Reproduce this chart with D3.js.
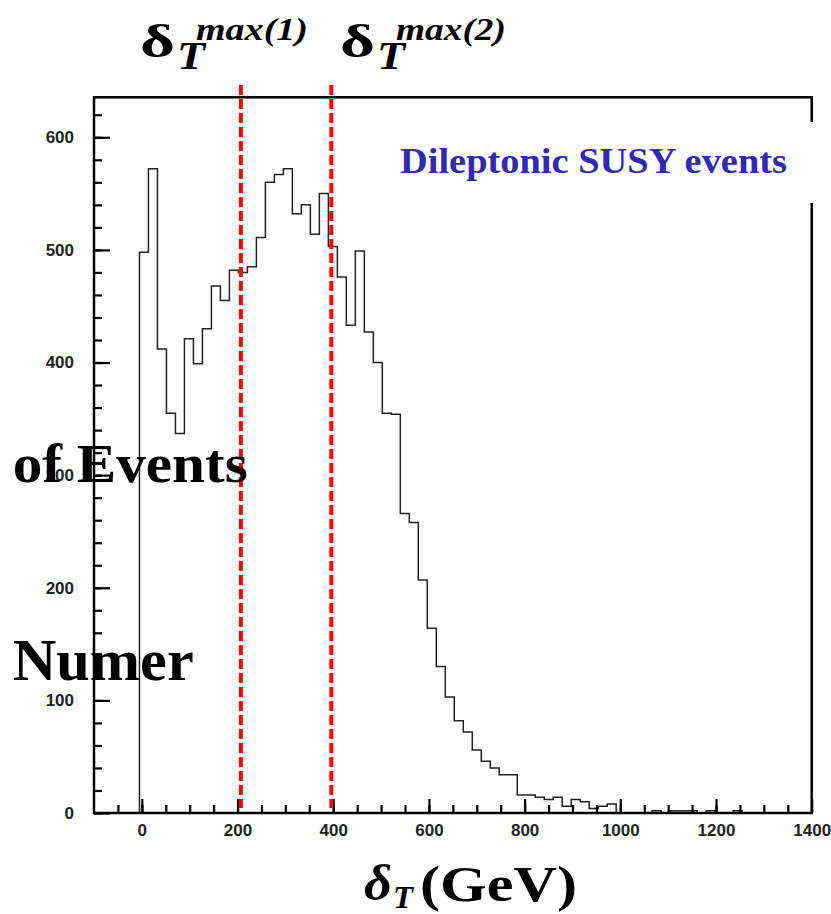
<!DOCTYPE html>
<html>
<head>
<meta charset="utf-8">
<script src="https://cdn.jsdelivr.net/npm/d3@7"></script>
<style>
  body { margin: 0; background: #fff; }
</style>
</head>
<body>
<div id="chart"></div>
<script>
// histogram bins (GeV) and counts
const binStart = -5;
const binWidth = 18.8;
const counts = [498, 572, 412, 355, 337, 421, 399, 430, 468, 455,
                482, 480, 485, 511, 560, 567, 572, 532, 540, 514,
                550, 503, 476, 433, 499, 427, 400, 355, 354, 266,
                258, 207, 164, 130, 103, 82, 72, 56, 46, 40,
                34, 34, 16, 16, 14, 12, 14, 6, 12, 10,
                4, 6, 8, 0, 0, 0, 0, 2, 0, 2,
                2, 2, 0, 2, 0, 0, 2];

const xMajor = [0, 200, 400, 600, 800, 1000, 1200, 1400];
const xMinor = d3.range(-50, 1400, 50);
const yMajor = [0, 100, 200, 300, 400, 500, 600];
const yMinor = d3.range(0, 640, 20);

// the two cut values (red dashed lines)
const cuts = [207, 396];
const cutLabels = ["max(1)", "max(2)"];

const width = 831, height = 914;
const fLeft = 94, fRight = 811.7, fTop = 97.3, fBottom = 813;

const svg = d3.select("#chart").append("svg")
  .attr("width", width)
  .attr("height", height)
  .attr("viewBox", [0, 0, width, height]);

const x = d3.scaleLinear().domain([-100, 1400]).range([fLeft, fRight]);
const y = d3.scaleLinear().domain([0, 635.5]).range([fBottom, fTop]);

// histogram outline as a step line
const pts = [[binStart, 0]];
counts.forEach((c, i) => pts.push([binStart + i * binWidth, c]));
const lastEdge = binStart + counts.length * binWidth;
pts.push([lastEdge, counts[counts.length - 1]]);
pts.push([lastEdge, 0]);

svg.append("path")
  .attr("d", d3.line().x(d => x(d[0])).y(d => y(d[1])).curve(d3.curveStepAfter)(pts))
  .attr("fill", "none")
  .attr("stroke", "#222")
  .attr("stroke-width", 1.5);

// frame
svg.append("rect")
  .attr("x", fLeft).attr("y", fTop)
  .attr("width", fRight - fLeft).attr("height", fBottom - fTop)
  .attr("fill", "none")
  .attr("stroke", "#000")
  .attr("stroke-width", 2.5);

// inward ticks
const tickStyle = g => g.call(g => g.select(".domain").remove())
  .call(g => g.selectAll(".tick line").attr("stroke", "#000").attr("stroke-width", 2.2));

svg.append("g").attr("transform", `translate(${fLeft},0)`)
  .call(d3.axisLeft(y).tickValues(yMinor).tickSize(-8).tickFormat(""))
  .call(tickStyle);
svg.append("g").attr("transform", `translate(${fLeft},0)`)
  .call(d3.axisLeft(y).tickValues(yMajor).tickSize(-16).tickFormat(""))
  .call(tickStyle);
svg.append("g").attr("transform", `translate(0,${fBottom})`)
  .call(d3.axisBottom(x).tickValues(xMinor).tickSize(-8).tickFormat(""))
  .call(tickStyle);
svg.append("g").attr("transform", `translate(0,${fBottom})`)
  .call(d3.axisBottom(x).tickValues(xMajor).tickSize(-14).tickFormat(""))
  .call(tickStyle);

// tick labels
const labelStyle = g => g.call(g => g.select(".domain").remove())
  .call(g => g.selectAll("text")
    .attr("fill", "#222")
    .style("font-family", "'Liberation Sans', Arial, sans-serif")
    .style("font-weight", "bold")
    .style("font-size", "17px"));

svg.append("g").attr("transform", `translate(${fLeft},0)`)
  .call(d3.axisLeft(y).tickValues(yMajor).tickSize(0).tickPadding(20).tickFormat(d3.format("d")))
  .call(labelStyle);
svg.append("g").attr("transform", `translate(0,${fBottom})`)
  .call(d3.axisBottom(x).tickValues(xMajor).tickSize(0).tickPadding(11).tickFormat(d3.format("d")))
  .call(labelStyle);

// red dashed cut lines
svg.selectAll("line.cut").data(cuts).join("line")
  .attr("class", "cut")
  .attr("x1", d => x(d)).attr("x2", d => x(d))
  .attr("y1", 85).attr("y2", fBottom - 5)
  .attr("stroke", "#ff0000")
  .attr("stroke-width", 4)
  .attr("stroke-dasharray", "10,4");

// white box behind the legend text (it hides part of the right frame)
svg.append("rect")
  .attr("x", 392).attr("y", 122)
  .attr("width", 430).attr("height", 81)
  .attr("fill", "#fff");

svg.append("text")
  .attr("x", 400).attr("y", 173)
  .attr("textLength", 387)
  .attr("lengthAdjust", "spacingAndGlyphs")
  .attr("fill", "#3328b0")
  .style("font-family", "'Liberation Serif', 'DejaVu Serif', serif")
  .style("font-weight", "bold")
  .style("font-size", "35px")
  .text("Dileptonic SUSY events");

// labels above the cut lines: delta_T^max(n)
const serif = "'Liberation Serif', 'Times New Roman', serif";
const cutLab = svg.selectAll("g.cutlab").data(cuts).join("g")
  .attr("class", "cutlab")
  .attr("transform", (d, i) => `translate(${i === 0 ? 140 : 340},0)`);
cutLab.append("text")
  .attr("x", 0).attr("y", 57)
  .attr("textLength", 35).attr("lengthAdjust", "spacingAndGlyphs")
  .style("font-family", serif).style("font-weight", "bold").style("font-size", "46px")
  .text("δ");
cutLab.append("text")
  .attr("x", 37).attr("y", 69)
  .attr("textLength", 28).attr("lengthAdjust", "spacingAndGlyphs")
  .style("font-family", serif).style("font-weight", "bold").style("font-style", "italic")
  .style("font-size", "40px")
  .text("T");
cutLab.append("text")
  .attr("x", 56).attr("y", 40)
  .attr("textLength", (d, i) => i === 0 ? 112 : 110).attr("lengthAdjust", "spacingAndGlyphs")
  .style("font-family", serif).style("font-weight", "bold").style("font-style", "italic")
  .style("font-size", "31px")
  .text((d, i) => cutLabels[i]);

// y axis title (two separate blocks as in the figure)
svg.append("text")
  .attr("x", 12.7).attr("y", 482)
  .attr("textLength", 235).attr("lengthAdjust", "spacingAndGlyphs")
  .style("font-family", serif).style("font-weight", "bold").style("font-size", "54px")
  .text("of Events");
svg.append("text")
  .attr("x", 12.7).attr("y", 680)
  .attr("textLength", 181).attr("lengthAdjust", "spacingAndGlyphs")
  .style("font-family", serif).style("font-weight", "bold").style("font-size", "60px")
  .text("Numer");

// x axis title
svg.append("text")
  .attr("x", 364).attr("y", 900)
  .attr("textLength", 28).attr("lengthAdjust", "spacingAndGlyphs")
  .style("font-family", serif).style("font-weight", "bold").style("font-style", "italic")
  .style("font-size", "50px")
  .text("δ");
svg.append("text")
  .attr("x", 393).attr("y", 908)
  .attr("textLength", 20).attr("lengthAdjust", "spacingAndGlyphs")
  .style("font-family", serif).style("font-weight", "bold").style("font-style", "italic")
  .style("font-size", "31px")
  .text("T");
svg.append("text")
  .attr("x", 420).attr("y", 901)
  .attr("textLength", 157).attr("lengthAdjust", "spacingAndGlyphs")
  .style("font-family", serif).style("font-weight", "bold")
  .style("font-size", "50px")
  .text("(GeV)");
</script>
</body>
</html>
